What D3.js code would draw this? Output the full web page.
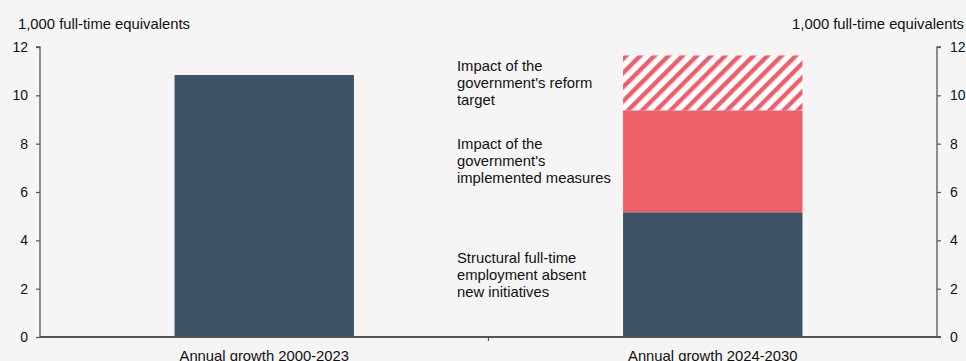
<!DOCTYPE html>
<html>
<head>
<meta charset="utf-8">
<script src="https://cdn.jsdelivr.net/npm/d3@7"></script>
<style>
  html, body { margin: 0; padding: 0; background: #f5f5f5; }
  svg { display: block; font-family: "Liberation Sans", Arial, sans-serif; }
</style>
</head>
<body>
<svg id="chart" width="966" height="361"></svg>
<script>
// Categories and stacked components (1,000 full-time equivalents)
const categories = ["Annual growth 2000-2023", "Annual growth 2024-2030"];
const structural = [10.84, 5.16];
const implemented = [0, 4.22];
const reformTarget = [0, 2.27];
const seriesLines = [
  ["Structural full-time", "employment absent", "new initiatives"],
  ["Impact of the", "government's", "implemented measures"],
  ["Impact of the", "government's reform", "target"]
];
const yTicks = [0, 2, 4, 6, 8, 10, 12];
const unitLabel = "1,000 full-time equivalents";

const svg = d3.select("#chart");
const plotLeft = 40, plotRight = 937, plotTop = 47, plotBottom = 337;
const textSize = 14.8;

const x = d3.scaleBand().domain(categories).range([plotLeft, plotRight])
  .paddingInner(0.6).paddingOuter(0.3);
const y = d3.scaleLinear().domain([0, 12]).range([plotBottom, plotTop]);

// hatch pattern for the reform target
const defs = svg.append("defs");
const pat = defs.append("pattern")
  .attr("id", "hatch").attr("patternUnits", "userSpaceOnUse")
  .attr("width", 10).attr("height", 10)
  .attr("patternTransform", "rotate(45)");
pat.append("rect").attr("width", 10).attr("height", 10).attr("fill", "#ffffff");
pat.append("rect").attr("x", 0).attr("width", 4.4).attr("height", 10).attr("fill", "#ef5f69");

const colors = ["#3d5263", "#ef5f69", "url(#hatch)"];

// stacked layers
const rows = categories.map((c, i) => ({
  cat: c, s0: structural[i], s1: implemented[i], s2: reformTarget[i]
}));
const stack = d3.stack().keys(["s0", "s1", "s2"])(rows);

stack.forEach((layer, li) => {
  svg.append("g").selectAll("rect")
    .data(layer.filter(d => d[1] - d[0] > 0)).join("rect")
    .attr("x", d => x(d.data.cat))
    .attr("width", x.bandwidth())
    .attr("y", d => y(d[1]))
    .attr("height", d => y(d[0]) - y(d[1]))
    .attr("fill", colors[li]);
});

// segment annotations, left of the second bar, centred on each segment
stack.forEach((layer, li) => {
  const d = layer[1];
  const mid = y((d[0] + d[1]) / 2);
  const lines = seriesLines[li];
  const lh = 17;
  const t = svg.append("text")
    .attr("font-size", textSize).attr("fill", "#111");
  lines.forEach((ln, k) => {
    t.append("tspan")
      .attr("x", 457)
      .attr("y", mid + (k - (lines.length - 1) / 2) * lh)
      .attr("dy", "0.35em")
      .text(ln);
  });
});

// value axes on both sides
const axisColor = "#555";
const yl = svg.append("g").attr("transform", `translate(${plotLeft},0)`)
  .call(d3.axisLeft(y).tickValues(yTicks).tickSize(4).tickPadding(8).tickFormat(d3.format("d")));
const yr = svg.append("g").attr("transform", `translate(${plotRight},0)`)
  .call(d3.axisRight(y).tickValues(yTicks).tickSize(4).tickPadding(9).tickFormat(d3.format("d")));
[[yl, -4], [yr, 4]].forEach(([g, s]) => {
  g.select(".domain").attr("stroke", axisColor).attr("stroke-width", 1.3)
    .attr("d", `M${s},${plotTop}H0V${plotBottom}`);
  g.selectAll(".tick line").attr("stroke", axisColor).attr("stroke-width", 1.2);
  g.selectAll(".tick text").attr("font-size", 14).attr("fill", "#111")
    .attr("font-family", "Liberation Sans, Arial, sans-serif");
});

// category axis
const xa = svg.append("g").attr("transform", `translate(0,${plotBottom})`)
  .call(d3.axisBottom(x).tickSize(0).tickPadding(13));
xa.select(".domain").attr("stroke", axisColor).attr("stroke-width", 2)
  .attr("d", `M${plotLeft},0H${plotRight + 4}`);
xa.selectAll(".tick text").attr("font-size", textSize).attr("fill", "#111")
  .attr("font-family", "Liberation Sans, Arial, sans-serif");
// separator tick between the categories
const sep = x(categories[0]) + x.bandwidth() + x.step() * x.paddingInner() / 2;
xa.append("line").attr("x1", sep).attr("x2", sep).attr("y1", 0).attr("y2", 4)
  .attr("stroke", axisColor).attr("stroke-width", 1.2);

// unit labels
svg.append("text").attr("x", 18).attr("y", 29).attr("font-size", textSize)
  .attr("fill", "#111").text(unitLabel);
svg.append("text").attr("x", 964).attr("y", 29).attr("font-size", textSize)
  .attr("text-anchor", "end").attr("fill", "#111").text(unitLabel);
</script>
</body>
</html>
